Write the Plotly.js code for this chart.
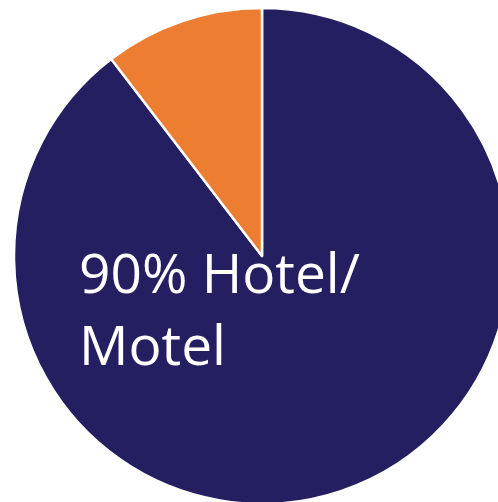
<!DOCTYPE html>
<html>
<head>
<meta charset="utf-8">
<script src="https://cdn.plot.ly/plotly-3.0.1.min.js"></script>
<style>
html,body{margin:0;padding:0;overflow:hidden;background:#fff;width:498px;height:502px;}
#chart{width:510px;height:504px;}
</style>
</head>
<body>
<div id="chart"></div>
<script>
const labels = ["Hotel/Motel", "Other"];
const values = [89.6, 10.4];
const colors = ["#231F60", "#ED7D31"];
const labelLine1 = "90% Hotel/";
const labelLine2 = "Motel";

const L = 14, T = 8, S = 496;
function px(x){ return (x - L) / S; }
function py(y){ return 1 - (y - T) / S; }

Plotly.newPlot("chart", [{
  type: "pie",
  labels: labels,
  values: values,
  sort: false,
  direction: "clockwise",
  rotation: 0,
  textinfo: "none",
  hoverinfo: "none",
  marker: {colors: colors, line: {color: "#ffffff", width: 2.5}},
  showlegend: false
}], {
  width: 510, height: 504,
  margin: {l: L, r: 0, t: T, b: 0, pad: 0},
  paper_bgcolor: "#ffffff",
  showlegend: false,
  annotations: [
    {text: labelLine1, xref: "paper", yref: "paper", x: px(77), y: py(271), xanchor: "left", yanchor: "middle",
     showarrow: false, font: {family: "Open Sans", size: 55, color: "#ffffff"}},
    {text: labelLine2, xref: "paper", yref: "paper", x: px(77), y: py(343), xanchor: "left", yanchor: "middle",
     showarrow: false, font: {family: "Open Sans", size: 55, color: "#ffffff"}}
  ]
}, {staticPlot: true, displayModeBar: false});
</script>
</body>
</html>
